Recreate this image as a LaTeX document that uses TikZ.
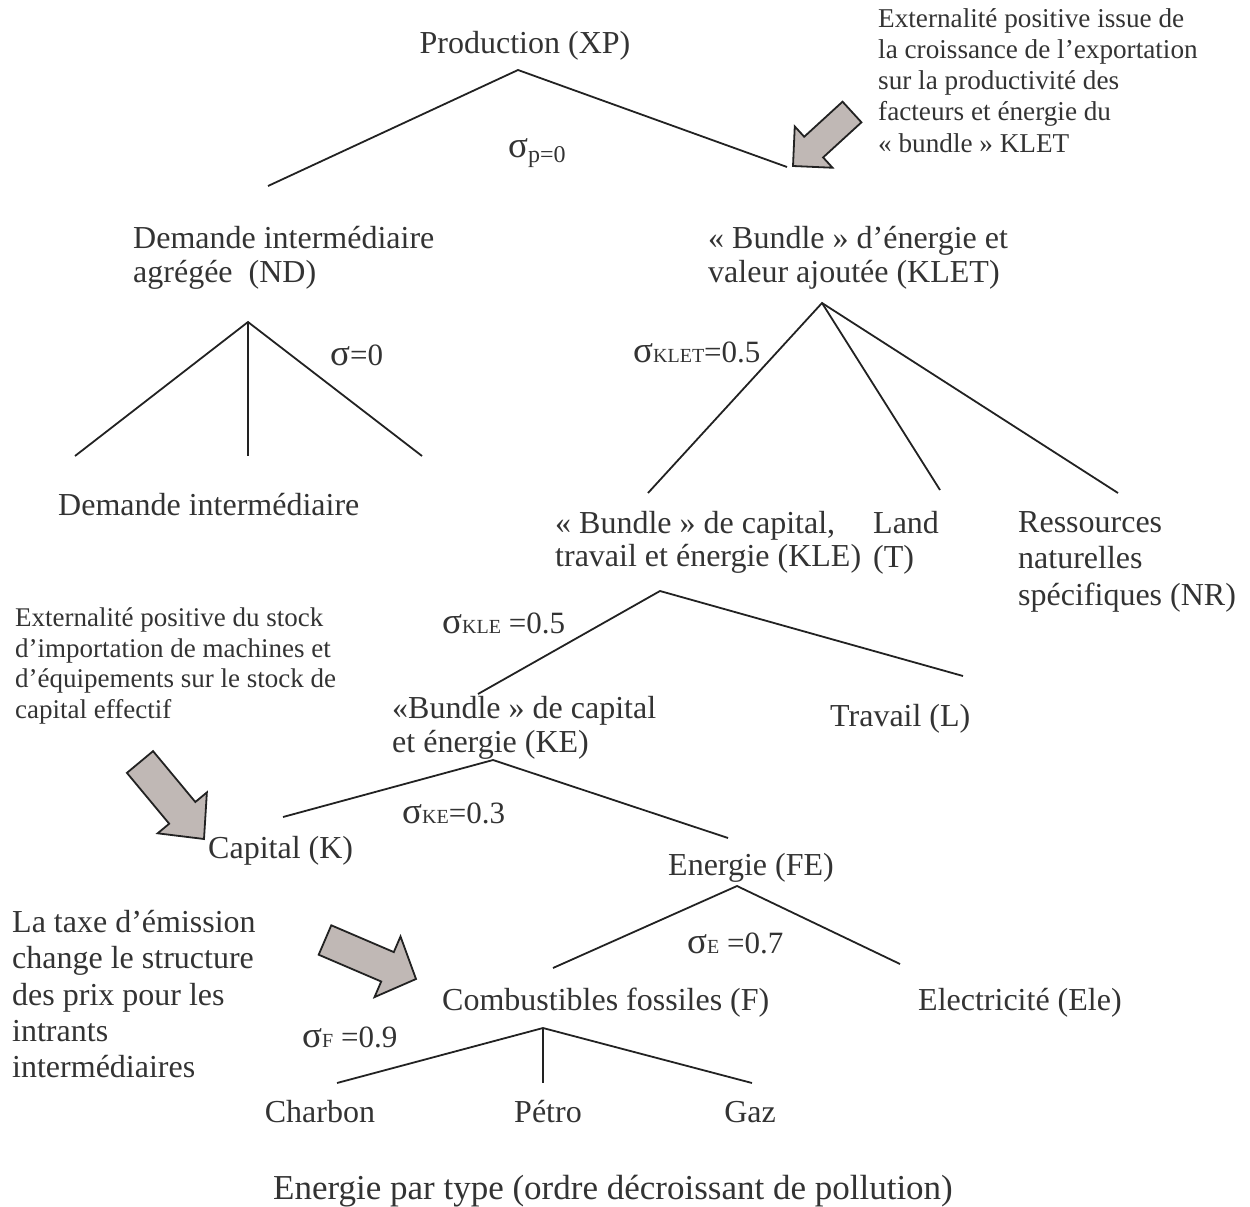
\documentclass[tikz,border=0pt]{standalone}
\usepackage{fontspec}
\setmainfont{Liberation Serif}
\usetikzlibrary{calc}
\definecolor{txt}{HTML}{333333}
\definecolor{ln}{HTML}{222222}
\definecolor{arrowfill}{HTML}{C0B8B5}
\tikzset{
  lbl/.style={font=\fontsize{32}{34.5}\selectfont, text=txt, inner sep=0pt, align=left},
  ann/.style={font=\fontsize{27.2}{31.25}\selectfont, text=txt, inner sep=0pt, align=left},
  sg/.style={font=\fontsize{31}{31}\selectfont, text=txt, inner sep=0pt},
  br/.style={draw=ln, line width=1.8pt},
  blk/.style={draw=ln, fill=arrowfill, line width=1.8pt, line join=miter},
}
\newcommand{\sgm}{{\fontsize{37}{37}\selectfont σ}}
\newcommand{\sbs}[1]{{\fontsize{20}{20}\selectfont #1}}
\newcommand{\blockarrow}[5]{% tail, tip, shaft half width, head half width, head length
  \coordinate (#1-h) at ($(#2)!#5!(#1)$);
  \draw[blk] ($(#1)!#3!90:(#2)$) -- ($(#1-h)!#3!-90:(#1)$) -- ($(#1-h)!#4!-90:(#1)$)
    -- (#2) -- ($(#1-h)!#4!90:(#1)$) -- ($(#1-h)!#3!90:(#1)$) -- ($(#1)!#3!-90:(#2)$) -- cycle;
}
\begin{document}
\begin{tikzpicture}[x=1pt,y=-1pt]
\useasboundingbox (0,0) rectangle (1250,1207);

% ---------- text nodes ----------
\node[lbl, anchor=base] (xp) at (525,53) {Production (XP)};
\node[lbl, anchor=north west] (nd) at (133,226) {Demande intermédiaire\\agrégée \ (ND)};
\node[lbl, anchor=north west] (klet) at (708,226) {« Bundle » d’énergie et\\valeur ajoutée (KLET)};
\node[lbl, anchor=base west] (di) at (58,515) {Demande intermédiaire};
\node[lbl, anchor=north west, font=\fontsize{32}{33.5}\selectfont] (kle) at (555,511) {« Bundle » de capital,\\travail et énergie (KLE)};
\node[lbl, anchor=north west] (land) at (873,511) {Land\\(T)};
\node[lbl, anchor=north west, font=\fontsize{32}{36.5}\selectfont] (nr) at (1018,511) {Ressources\\naturelles\\spécifiques (NR)};
\node[lbl, anchor=north west] (ke) at (392,696) {«Bundle » de capital\\et énergie (KE)};
\node[lbl, anchor=base west] (lab) at (830,726) {Travail (L)};
\node[lbl, anchor=base west] (cap) at (208,858) {Capital (K)};
\node[lbl, anchor=base west] (fe) at (668,875) {Energie (FE)};
\node[lbl, anchor=base west] (fos) at (442,1010) {Combustibles fossiles (F)};
\node[lbl, anchor=base west] (ele) at (918,1010) {Electricité (Ele)};
\node[lbl, anchor=base] (coal) at (320,1122) {Charbon};
\node[lbl, anchor=base] (oil) at (548,1122) {Pétro};
\node[lbl, anchor=base] (gas) at (750,1122) {Gaz};
\node[lbl, anchor=base, font=\fontsize{35}{36}\selectfont] (etype) at (613,1199) {Energie par type (ordre décroissant de pollution)};

% annotations
\node[ann, anchor=north west] (ann1) at (878,8) {Externalité positive issue de\\la croissance de l’exportation\\sur la productivité des\\facteurs et énergie du\\« bundle » KLET};
\node[ann, anchor=north west, font=\fontsize{27}{30.5}\selectfont] (ann2) at (15,608) {Externalité positive du stock\\d’importation de machines et\\d’équipements sur le stock de\\capital effectif};
\node[lbl, anchor=north west, font=\fontsize{32}{36.3}\selectfont] (ann3) at (12,910) {La taxe d’émission\\change le structure\\des prix pour les\\intrants\\intermédiaires};

% elasticities
\node[sg, anchor=base west] (sp) at (508,157) {\sgm\raisebox{-5pt}{\fontsize{24}{24}\selectfont p=0}};
\node[sg, anchor=base west] (s0) at (330,365) {\sgm=0};
\node[sg, anchor=base west] (sklet) at (633,362) {\sgm\sbs{KLET}=0.5};
\node[sg, anchor=base west] (skle) at (442,633) {\sgm\sbs{KLE} =0.5};
\node[sg, anchor=base west] (ske) at (402,823) {\sgm\sbs{KE}=0.3};
\node[sg, anchor=base west] (se) at (687,953) {\sgm\sbs{E} =0.7};
\node[sg, anchor=base west] (sf) at (302,1047) {\sgm\sbs{F} =0.9};

% ---------- branch coordinates ----------
\coordinate (xpA) at (518,70);
\coordinate (xpL) at (268,186);
\coordinate (xpR) at (787,167);
\coordinate (ndA) at (248,322);
\coordinate (ndL) at (75,456);
\coordinate (ndM) at (248,456);
\coordinate (ndR) at (422,456);
\coordinate (kletA) at (822,303);
\coordinate (kletL) at (648,493);
\coordinate (kletM) at (940,490);
\coordinate (kletR) at (1118,493);
\coordinate (kleA) at (660,591);
\coordinate (kleL) at (478,694);
\coordinate (kleR) at (963,676);
\coordinate (keA) at (493,760);
\coordinate (keL) at (283,817);
\coordinate (keR) at (728,838);
\coordinate (feA) at (737,886);
\coordinate (feL) at (553,968);
\coordinate (feR) at (900,964);
\coordinate (fA) at (543,1028);
\coordinate (fL) at (337,1083);
\coordinate (fM) at (543,1083);
\coordinate (fR) at (752,1083);

\draw[br] (xpL) -- (xpA) -- (xpR);
\draw[br] (ndL) -- (ndA) -- (ndR);
\draw[br] (ndA) -- (ndM);
\draw[br] (kletL) -- (kletA) -- (kletR);
\draw[br] (kletA) -- (kletM);
\draw[br] (kleL) -- (kleA) -- (kleR);
\draw[br] (keL) -- (keA) -- (keR);
\draw[br] (feL) -- (feA) -- (feR);
\draw[br] (fL) -- (fA) -- (fR);
\draw[br] (fA) -- (fM);

% ---------- block arrows ----------
\coordinate (a1) at (852,112); \coordinate (a1tip) at (793,166);
\blockarrow{a1}{a1tip}{14pt}{28pt}{28pt}
\coordinate (a2) at (140,762); \coordinate (a2tip) at (204,839);
\blockarrow{a2}{a2tip}{17pt}{32pt}{34pt}
\coordinate (a3) at (325,940); \coordinate (a3tip) at (416,979);
\blockarrow{a3}{a3tip}{16pt}{33pt}{31pt}
\end{tikzpicture}
\end{document}
